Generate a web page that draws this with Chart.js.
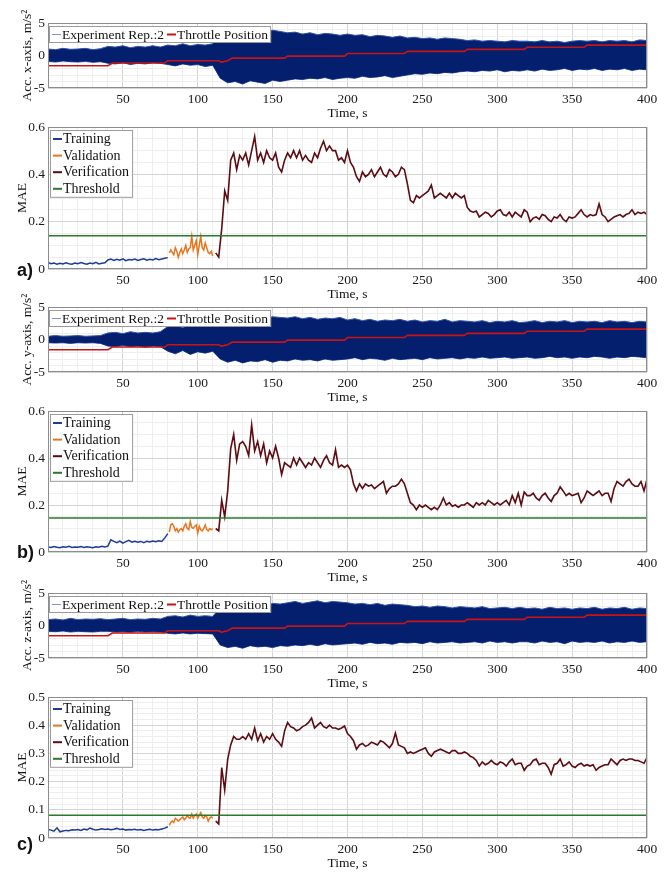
<!DOCTYPE html>
<html>
<head>
<meta charset="utf-8">
<script src="https://cdn.jsdelivr.net/npm/chart.js@4.4.1/dist/chart.umd.min.js"></script>
<style>
  html, body { margin: 0; padding: 0; background: #fff; }
  #page { position: relative; width: 670px; height: 873px; }
  .layer { position: absolute; left: 0; top: 0; width: 670px; height: 873px; }
</style>
</head>
<body>
<div id="page">
  <div class="layer"><canvas id="accX" width="670" height="873"></canvas></div>
  <div class="layer"><canvas id="maeA" width="670" height="873"></canvas></div>
  <div class="layer"><canvas id="accY" width="670" height="873"></canvas></div>
  <div class="layer"><canvas id="maeB" width="670" height="873"></canvas></div>
  <div class="layer"><canvas id="accZ" width="670" height="873"></canvas></div>
  <div class="layer"><canvas id="maeC" width="670" height="873"></canvas></div>
</div>
<script>
// ---- tick labels ----
const timeTicks = [50, 100, 150, 200, 250, 300, 350, 400];
const accTicks = [-5, 0, 5];
const maeTicksAB = [0, 0.2, 0.4, 0.6];
const maeTicksC = [0, 0.1, 0.2, 0.3, 0.4, 0.5];

// ---- acceleration envelope (read every 5 s, 0..400 s) ----
const ACC_START = 0, ACC_STEP = 5;
const accXHi = [
  1.0, 0.9, 1.1, 0.95, 1.0, 1.1, 0.9, 1.05,
  1.4, 1.3, 1.5, 1.2, 1.4, 1.3, 1.5, 1.3,
  1.6, 1.5, 1.8, 1.5, 1.7, 1.6, 1.8,
  3.6,
  4.3, 3.8, 4.1, 3.7, 4.0, 3.6, 3.9, 3.7,
  3.5, 3.6, 3.3, 3.5, 3.2, 3.4, 3.3, 3.1,
  3.3, 3.1, 3.2, 2.9, 3.1, 3.0, 2.8, 3.0,
  2.7, 2.8, 2.6, 2.7, 2.5, 2.7, 2.6, 2.5,
  2.3, 2.4, 2.2, 2.3, 2.2, 2.1, 2.3, 2.2,
  2.2, 2.1, 2.3, 2.1, 2.2, 2.0, 2.2, 2.3,
  2.2, 2.3, 2.1, 2.3, 2.2, 2.3, 2.1, 2.4, 2.3
];
const accXLo = [
  -0.9, -1.0, -0.85, -0.95, -1.0, -0.9, -1.05, -0.95,
  -1.2, -1.3, -1.1, -1.4, -1.2, -1.3, -1.1, -1.2,
  -1.4, -1.6, -1.3, -1.5, -1.4, -1.7, -1.5,
  -3.5,
  -4.2, -4.0, -4.4, -3.9, -4.1, -4.3, -3.8, -4.0,
  -3.8, -3.6, -3.7, -3.5, -3.6, -3.4, -3.7, -3.5,
  -3.4, -3.5, -3.2, -3.4, -3.3, -3.1, -3.4, -3.2,
  -3.0, -2.8, -2.9, -2.7, -2.8, -2.6, -2.7, -2.5,
  -2.4, -2.5, -2.3, -2.4, -2.2, -2.5, -2.3, -2.4,
  -2.2, -2.4, -2.1, -2.3, -2.2, -2.0, -2.3, -2.1,
  -2.2, -2.0, -2.3, -2.1, -2.2, -2.0, -2.3, -2.1, -2.2
];
const accYHi = [
  0.5, 0.6, 0.5, 0.55, 0.6, 0.5, 0.55, 0.6,
  1.0, 1.1, 0.9, 1.2, 1.0, 1.1, 1.0, 1.2,
  2.0, 2.3, 1.8, 2.4, 2.0, 2.2, 2.5,
  3.5,
  3.8, 3.5, 3.7, 3.4, 3.6, 3.3, 3.5, 3.4,
  3.3, 3.5, 3.2, 3.4, 3.1, 3.3, 3.2, 3.4,
  3.0, 3.2, 2.9, 3.1, 2.8, 3.0, 2.9, 3.1,
  2.8, 3.0, 2.7, 2.9, 2.8, 3.1, 2.7, 2.9,
  2.8, 2.7, 2.9, 2.6, 2.8, 2.7, 2.9, 2.6,
  2.7, 2.9, 2.6, 2.8, 2.7, 2.9, 2.6, 2.8,
  2.7, 2.8, 2.6, 2.9, 2.7, 2.8, 2.6, 2.8, 2.7
];
const accYLo = [
  -0.5, -0.55, -0.5, -0.6, -0.5, -0.55, -0.5, -0.6,
  -1.0, -1.1, -0.9, -1.1, -1.0, -1.2, -1.0, -1.1,
  -1.8, -2.2, -1.7, -2.3, -1.9, -2.1, -1.8,
  -3.0,
  -3.5, -3.2, -3.6, -3.3, -3.4, -3.1, -3.5, -3.2,
  -3.3, -3.0, -3.2, -3.1, -3.3, -3.0, -3.2, -3.1,
  -3.0, -2.8, -3.1, -2.9, -3.0, -3.2, -2.9, -3.1,
  -3.0, -2.9, -3.1, -2.8, -3.0, -2.9, -2.8, -3.0,
  -2.8, -2.9, -2.7, -2.9, -2.8, -2.7, -2.9, -2.8,
  -2.7, -2.9, -2.8, -2.6, -2.8, -2.7, -2.9, -2.7,
  -2.8, -2.6, -2.7, -2.9, -2.7, -2.8, -2.6, -2.7, -2.8
];
const accZHi = [
  0.9, 1.0, 0.85, 1.1, 0.9, 1.0, 0.95, 1.05,
  0.9, 1.0, 1.1, 0.9, 1.0, 0.95, 1.1, 1.0,
  1.4, 1.5, 1.3, 1.6, 1.4, 1.5, 1.4,
  2.8,
  3.0, 2.9, 3.2, 3.0, 3.3, 3.1, 3.4, 3.3,
  3.5, 3.7, 3.4, 3.6, 3.8, 3.5, 3.7, 3.6,
  3.5, 3.3, 3.4, 3.2, 3.4, 3.1, 3.3, 3.2,
  3.1, 2.9, 3.0, 2.8, 3.0, 2.9, 2.7, 2.9,
  2.8, 2.7, 2.9, 2.6, 2.7, 2.8, 2.6, 2.8,
  2.6, 2.7, 2.5, 2.8, 2.6, 2.7, 2.5, 2.7,
  2.6, 2.8, 2.5, 2.7, 2.6, 2.8, 2.5, 2.7, 2.6
];
const accZLo = [
  -0.9, -0.95, -0.85, -1.0, -0.9, -0.95, -1.0, -0.9,
  -0.9, -1.0, -0.95, -1.05, -0.9, -1.0, -0.95, -1.0,
  -1.2, -1.3, -1.15, -1.3, -1.2, -1.25, -1.3,
  -3.0,
  -3.4, -3.2, -3.5, -3.1, -3.3, -3.2, -3.4, -3.1,
  -3.2, -3.0, -3.1, -2.9, -3.1, -2.8, -3.0, -2.9,
  -2.8, -2.7, -2.9, -2.6, -2.8, -2.7, -2.9, -2.6,
  -2.7, -2.6, -2.8, -2.5, -2.7, -2.6, -2.5, -2.7,
  -2.6, -2.5, -2.7, -2.4, -2.6, -2.5, -2.7, -2.5,
  -2.5, -2.7, -2.4, -2.6, -2.5, -2.8, -2.4, -2.6,
  -2.5, -2.6, -2.4, -2.7, -2.5, -2.6, -2.4, -2.6, -2.5
];

// ---- throttle position (same run for all three axes) ----
const throttleTime = [0, 40, 43, 78, 80, 114, 116, 118, 120, 123, 158, 160, 198, 200, 238, 240, 278, 280, 318, 320, 358, 360, 400];
const throttleVal  = [-1.58, -1.58, -1.15, -1.15, -0.8, -0.8, -1.05, -0.9, -0.8, -0.4, -0.4, -0.1, -0.1, 0.3, 0.3, 0.63, 0.63, 0.95, 0.95, 1.27, 1.27, 1.6, 1.6];

// ---- MAE series ----
const TRAIN_START = 0, TRAIN_STEP = 2;
const VALID_START = 81, VALID_STEP = 1;
const VERIF_START = 112, VERIF_STEP = 2;

const trainA = [
  0.028, 0.022, 0.025, 0.02, 0.024, 0.021, 0.026, 0.022, 0.02, 0.025,
  0.022, 0.027, 0.023, 0.02, 0.025, 0.022, 0.028, 0.021, 0.024, 0.026,
  0.038, 0.042, 0.036, 0.041, 0.037, 0.043, 0.035, 0.04, 0.038, 0.042,
  0.036, 0.04, 0.043, 0.037, 0.041, 0.038, 0.044, 0.039, 0.042, 0.045,
  0.048
];
const validA = [
  0.068, 0.08, 0.07, 0.06, 0.09, 0.075, 0.05, 0.07, 0.085, 0.065,
  0.08, 0.1, 0.07, 0.085, 0.09, 0.138, 0.08, 0.1, 0.12, 0.06,
  0.1, 0.138, 0.09, 0.08, 0.11, 0.09, 0.07, 0.065, 0.075, 0.055
];
const verifA = [
  0.068, 0.05, 0.17, 0.33, 0.29, 0.46, 0.49, 0.42, 0.48, 0.46,
  0.49, 0.44, 0.5, 0.56, 0.46, 0.49, 0.45, 0.5, 0.47, 0.46,
  0.49, 0.43, 0.41, 0.46, 0.49, 0.47, 0.5, 0.47, 0.5, 0.46,
  0.48, 0.46, 0.45, 0.49, 0.47, 0.51, 0.54, 0.5, 0.52, 0.5,
  0.5, 0.46, 0.47, 0.45, 0.5, 0.45, 0.43, 0.39, 0.37, 0.41,
  0.39, 0.4, 0.42, 0.39, 0.41, 0.43, 0.4, 0.39, 0.42, 0.41,
  0.39, 0.4, 0.43, 0.42, 0.36, 0.29, 0.28, 0.31, 0.3, 0.31,
  0.32, 0.33, 0.355, 0.3, 0.31, 0.32, 0.31, 0.3, 0.32, 0.3,
  0.32, 0.31, 0.3, 0.31, 0.26, 0.245, 0.24, 0.245, 0.22, 0.23,
  0.24, 0.235, 0.22, 0.23, 0.245, 0.25, 0.23, 0.225, 0.24, 0.22,
  0.24, 0.23, 0.22, 0.25, 0.24, 0.2, 0.215, 0.22, 0.21, 0.23,
  0.225, 0.21, 0.2, 0.22, 0.215, 0.23, 0.21, 0.2, 0.22, 0.215,
  0.22, 0.235, 0.25, 0.23, 0.22, 0.23, 0.225, 0.23, 0.275, 0.23,
  0.22, 0.2, 0.21, 0.22, 0.225, 0.23, 0.22, 0.23, 0.235, 0.25,
  0.23, 0.24, 0.235, 0.24, 0.23
];
const thresholdA = 0.14;

const trainB = [
  0.021, 0.019, 0.023, 0.02, 0.018, 0.022, 0.02, 0.024, 0.019, 0.021,
  0.02, 0.023, 0.019, 0.022, 0.02, 0.018, 0.022, 0.02, 0.024, 0.021,
  0.025, 0.052, 0.045, 0.04, 0.046, 0.038, 0.044, 0.05, 0.042, 0.046,
  0.042, 0.045, 0.04, 0.046, 0.043, 0.047, 0.044, 0.048, 0.045, 0.06,
  0.078
];
const validB = [
  0.085, 0.116, 0.12, 0.11, 0.09, 0.1, 0.085, 0.095, 0.1, 0.09,
  0.11, 0.12, 0.1, 0.095, 0.13, 0.105, 0.1, 0.11, 0.115, 0.08,
  0.11, 0.095, 0.09, 0.1, 0.115, 0.095, 0.09, 0.1, 0.095, 0.1
];
const verifB = [
  0.1, 0.09, 0.22, 0.15, 0.26, 0.44, 0.5, 0.39, 0.46, 0.47,
  0.45, 0.41, 0.54, 0.43, 0.47, 0.41, 0.46, 0.38, 0.43, 0.4,
  0.45, 0.4, 0.33, 0.38, 0.37, 0.36, 0.4, 0.37, 0.4, 0.38,
  0.36, 0.38, 0.37, 0.4, 0.38, 0.36, 0.39, 0.41, 0.38, 0.37,
  0.435, 0.36, 0.37, 0.36, 0.37, 0.35, 0.29, 0.26, 0.29, 0.27,
  0.29, 0.28, 0.285, 0.27, 0.28, 0.29, 0.3, 0.25, 0.27, 0.28,
  0.28, 0.29, 0.31, 0.29, 0.25, 0.21, 0.2, 0.18, 0.2, 0.19,
  0.2, 0.19, 0.18, 0.19, 0.18, 0.2, 0.23, 0.2, 0.21, 0.195,
  0.2, 0.19, 0.2, 0.2, 0.21, 0.2, 0.19, 0.21, 0.2, 0.21,
  0.2, 0.22, 0.21, 0.2, 0.21, 0.2, 0.21, 0.22, 0.2, 0.24,
  0.21, 0.25, 0.2, 0.255, 0.24, 0.24, 0.25, 0.23, 0.22, 0.24,
  0.25, 0.23, 0.215, 0.24, 0.25, 0.277, 0.26, 0.24, 0.25, 0.24,
  0.245, 0.25, 0.21, 0.23, 0.26, 0.25, 0.24, 0.25, 0.26, 0.24,
  0.25, 0.25, 0.215, 0.27, 0.3, 0.29, 0.28, 0.3, 0.31, 0.29,
  0.28, 0.28, 0.3, 0.26, 0.31
];
const thresholdB = 0.145;

const trainC = [
  0.03, 0.028, 0.024, 0.036, 0.022, 0.025, 0.027, 0.026, 0.029, 0.028,
  0.03, 0.027, 0.032, 0.029, 0.035, 0.031, 0.028, 0.03, 0.033, 0.03,
  0.032, 0.029, 0.031, 0.034, 0.03, 0.032, 0.028, 0.03, 0.029, 0.031,
  0.028, 0.03, 0.027, 0.029, 0.031, 0.028, 0.03, 0.029, 0.032, 0.035,
  0.04
];
const validC = [
  0.045, 0.055, 0.06, 0.055, 0.07, 0.065, 0.06, 0.065, 0.07, 0.075,
  0.065, 0.07, 0.08, 0.072, 0.07, 0.085, 0.07, 0.08, 0.085, 0.07,
  0.08, 0.09, 0.075, 0.07, 0.08, 0.075, 0.06, 0.07, 0.075, 0.07
];
const verifC = [
  0.06, 0.05, 0.25, 0.17, 0.28, 0.33, 0.36, 0.35, 0.35, 0.36,
  0.35, 0.37, 0.35, 0.39, 0.345, 0.37, 0.34, 0.36, 0.35, 0.37,
  0.35, 0.34, 0.325, 0.38, 0.41, 0.395, 0.39, 0.38, 0.385, 0.395,
  0.4, 0.41, 0.425, 0.39, 0.4, 0.41, 0.395, 0.39, 0.4, 0.39,
  0.39, 0.385, 0.39, 0.397, 0.37, 0.36, 0.345, 0.315, 0.33, 0.335,
  0.325, 0.33, 0.34, 0.335, 0.33, 0.345, 0.34, 0.33, 0.32, 0.335,
  0.372, 0.33, 0.325, 0.32, 0.3, 0.305, 0.3, 0.305, 0.31, 0.315,
  0.32, 0.3, 0.29, 0.305, 0.31, 0.315, 0.31, 0.305, 0.3, 0.31,
  0.31, 0.3, 0.3, 0.305, 0.3, 0.29, 0.285, 0.275, 0.255, 0.27,
  0.26, 0.265, 0.275, 0.265, 0.26, 0.27, 0.265, 0.255, 0.27, 0.28,
  0.26, 0.265, 0.265, 0.24, 0.255, 0.26, 0.275, 0.28, 0.26, 0.265,
  0.265, 0.25, 0.226, 0.26, 0.265, 0.28, 0.255, 0.26, 0.27, 0.255,
  0.25, 0.26, 0.265, 0.255, 0.26, 0.255, 0.26, 0.24, 0.25, 0.255,
  0.26, 0.26, 0.28, 0.27, 0.26, 0.275, 0.28, 0.275, 0.28, 0.28,
  0.275, 0.275, 0.27, 0.265, 0.285
];
const thresholdC = 0.081;

// ---- helpers ----
const SERIF = '"Liberation Serif", "Times New Roman", serif';
const W = 670, H = 873, PLOT_L = 48, PLOT_R = 647, XAXIS_H = 30;

function series(start, step, vals) {
  return vals.map((v, i) => ({ x: start + i * step, y: v }));
}
function isMajor(majors, v) {
  return majors.some(m => Math.abs(m - v) < 1e-9);
}
function axis(min, max, minorStep, majors, isX) {
  return {
    type: 'linear', min, max,
    afterBuildTicks: s => {
      const t = [];
      for (let v = min; v <= max + 1e-9; v += minorStep) t.push({ value: +v.toFixed(4) });
      s.ticks = t;
    },
    afterFit: s => { if (isX) s.height = XAXIS_H; else s.width = PLOT_L; },
    ticks: {
      autoSkip: false, maxRotation: 0, padding: 3, color: '#1a1a1a',
      font: { family: SERIF, size: 13.5 },
      callback: v => isMajor(majors, v) ? String(v) : ''
    },
    grid: { drawTicks: false, lineWidth: 1, color: c => isMajor(majors, c.tick.value) ? '#d4d4d4' : '#eeeeee' },
    border: { display: false }
  };
}

const panelDeco = {
  id: 'panelDeco',
  afterDatasetsDraw(chart, args, o) {
    const { ctx, chartArea: a } = chart;
    const items = chart.data.datasets.filter(d => d.label);
    ctx.save();
    ctx.font = o.legendSize + 'px ' + SERIF;
    ctx.textBaseline = 'middle';
    ctx.textAlign = 'left';
    const left = a.left + (o.legendRow ? 1 : 2), top = a.top + 3;
    let w, h;
    if (o.legendRow) {
      w = 3 + items.reduce((s, d) => s + 10 + ctx.measureText(d.label).width + 3, 0);
      h = 17;
    } else {
      w = 13 + Math.max(...items.map(d => ctx.measureText(d.label).width)) + 4;
      h = 18 + (items.length - 1) * 16.6;
    }
    ctx.fillStyle = '#ffffff';
    ctx.fillRect(left, top, w, h);
    ctx.strokeStyle = '#9a9a9a';
    ctx.lineWidth = 1;
    ctx.strokeRect(left + 0.5, top + 0.5, w - 1, h - 1);
    let cx = left + 3;
    items.forEach((d, i) => {
      const y = o.legendRow ? top + h / 2 : top + 9 + i * 16.6;
      const x0 = o.legendRow ? cx : left + 3;
      ctx.strokeStyle = d.legendColor || d.borderColor;
      ctx.lineWidth = d.legendWidth || 2;
      ctx.beginPath(); ctx.moveTo(x0, y); ctx.lineTo(x0 + 9, y); ctx.stroke();
      ctx.fillStyle = '#111';
      ctx.fillText(d.label, x0 + 10, y + 0.5);
      cx += 10 + ctx.measureText(d.label).width + 3;
    });
    // axes frame
    ctx.strokeStyle = '#8c8c8c';
    ctx.lineWidth = 1;
    ctx.strokeRect(a.left + 0.5, a.top + 0.5, a.width - 1, a.height - 1);
    ctx.restore();
  },
  afterDraw(chart, args, o) {
    const { ctx, chartArea: a } = chart;
    ctx.save();
    ctx.fillStyle = '#111';
    ctx.font = '13.5px ' + SERIF;
    ctx.textAlign = 'center';
    ctx.textBaseline = 'middle';
    ctx.fillText('Time, s', (a.left + a.right) / 2, a.bottom + 25);
    ctx.translate(o.yTitleX, (a.top + a.bottom) / 2);
    ctx.rotate(-Math.PI / 2);
    ctx.fillText(o.yTitle, 0, 0);
    ctx.restore();
    if (o.panel) {
      ctx.save();
      ctx.fillStyle = '#111';
      ctx.font = 'bold 18px "Liberation Sans", Arial, sans-serif';
      ctx.textAlign = 'left';
      ctx.textBaseline = 'middle';
      ctx.fillText(o.panel, 17, o.panelY);
      ctx.restore();
    }
  }
};

function makeChart(id, datasets, yAxis, plotTop, plotBottom, deco) {
  return new Chart(document.getElementById(id), {
    type: 'line',
    data: { datasets },
    options: {
      responsive: false, animation: false, devicePixelRatio: 1,
      layout: { padding: { top: plotTop, bottom: H - plotBottom - XAXIS_H, left: 0, right: W - PLOT_R } },
      elements: { point: { radius: 0 }, line: { tension: 0 } },
      scales: { x: axis(0, 400, 10, timeTicks, true), y: yAxis },
      plugins: { legend: { display: false }, tooltip: { enabled: false }, panelDeco: deco }
    },
    plugins: [panelDeco]
  });
}

function accDatasets(hi, lo) {
  return [
    { label: 'Experiment Rep.:2', data: series(ACC_START, ACC_STEP, hi), fill: '+1',
      backgroundColor: '#041f6e', borderColor: '#3152a6', borderWidth: 1,
      legendColor: '#7f93d8', legendWidth: 1, order: 2 },
    { data: series(ACC_START, ACC_STEP, lo), fill: false, borderColor: '#3152a6', borderWidth: 1, order: 3 },
    { label: 'Throttle Position', data: throttleTime.map((t, i) => ({ x: t, y: throttleVal[i] })),
      borderColor: '#c81414', borderWidth: 1.6, fill: false, order: 1 }
  ];
}
function maeDatasets(tr, va, ve, th) {
  return [
    { label: 'Training', data: series(TRAIN_START, TRAIN_STEP, tr), borderColor: '#1c3b96', borderWidth: 1.5, order: 4 },
    { label: 'Validation', data: series(VALID_START, VALID_STEP, va), borderColor: '#e8761e', borderWidth: 1.5, order: 3 },
    { label: 'Verification', data: series(VERIF_START, VERIF_STEP, ve), borderColor: '#5c0b10', borderWidth: 1.6, order: 2 },
    { label: 'Threshold', data: [{ x: 0, y: th }, { x: 400, y: th }], borderColor: '#2b7a2b', borderWidth: 1.5, order: 1 }
  ];
}

const accDeco = t => ({ yTitle: t, yTitleX: 27, legendRow: true, legendSize: 13.5 });
const maeDeco = (p, py) => ({ yTitle: 'MAE', yTitleX: 22, legendRow: false, legendSize: 14, panel: p, panelY: py });

makeChart('accX', accDatasets(accXHi, accXLo), axis(-5, 5, 1, accTicks, false), 23, 88, accDeco('Acc. x-axis, m/s\u00B2'));
makeChart('maeA', maeDatasets(trainA, validA, verifA, thresholdA), axis(0, 0.6, 0.05, maeTicksAB, false), 127, 269, maeDeco('a)', 271));
makeChart('accY', accDatasets(accYHi, accYLo), axis(-5, 5, 1, accTicks, false), 307, 372, accDeco('Acc. y-axis, m/s\u00B2'));
makeChart('maeB', maeDatasets(trainB, validB, verifB, thresholdB), axis(0, 0.6, 0.05, maeTicksAB, false), 411, 552, maeDeco('b)', 553));
makeChart('accZ', accDatasets(accZHi, accZLo), axis(-5, 5, 1, accTicks, false), 593, 658, accDeco('Acc. z-axis, m/s\u00B2'));
makeChart('maeC', maeDatasets(trainC, validC, verifC, thresholdC), axis(0, 0.5, 0.02, maeTicksC, false), 697, 838, maeDeco('c)', 845));
</script>
</body>
</html>
